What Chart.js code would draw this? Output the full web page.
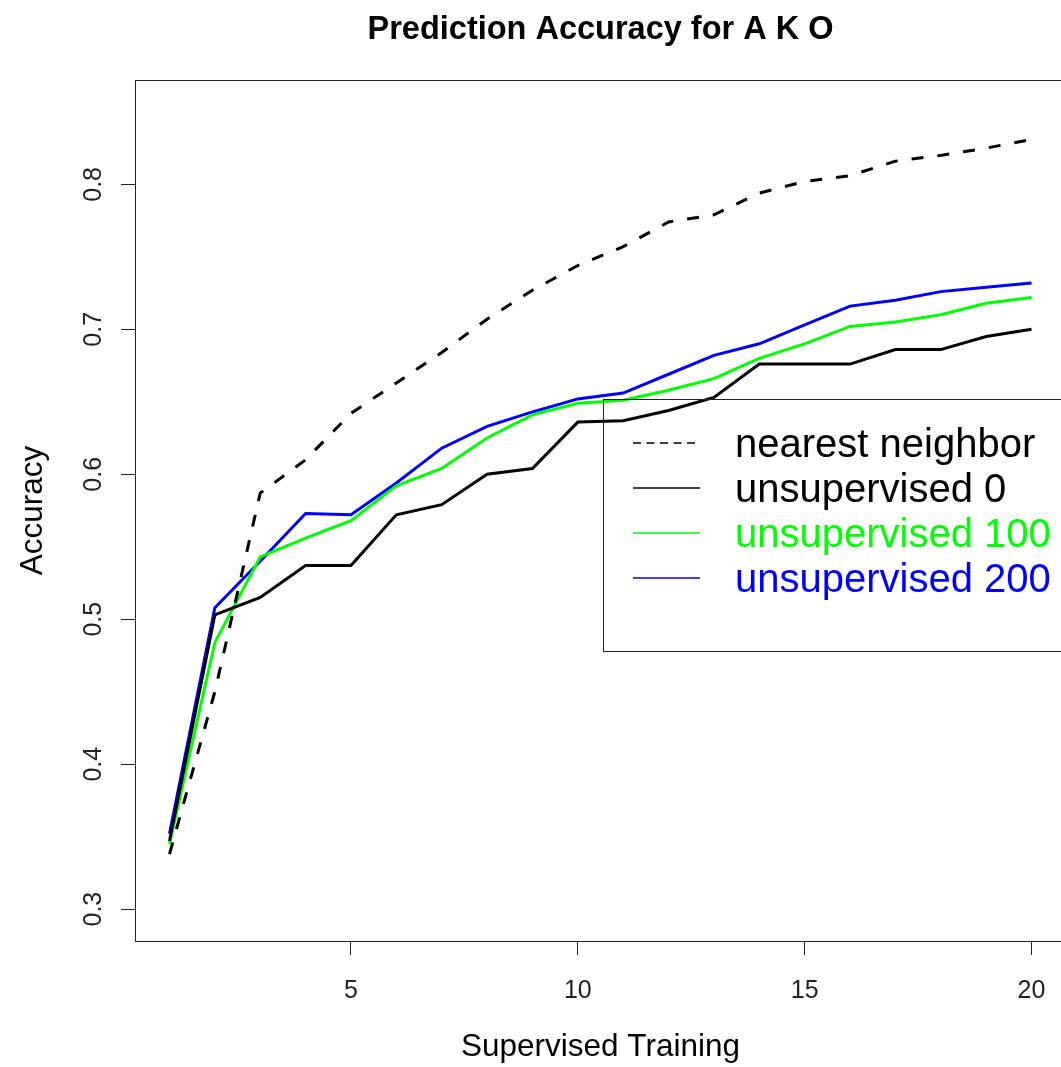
<!DOCTYPE html>
<html>
<head>
<meta charset="utf-8">
<script src="https://cdn.jsdelivr.net/npm/chart.js@4.4.1/dist/chart.umd.min.js"></script>
<style>
  html, body { margin: 0; padding: 0; background: #fff; overflow: hidden; }
  #wrap { width: 1061px; height: 1067px; overflow: hidden; position: relative; }
  #accChart { position: absolute; left: 0; top: 0; }
</style>
</head>
<body>
<div id="wrap"><canvas id="accChart" width="1100" height="1067"></canvas></div>
<script>
// Supervised training steps (x)
const trainSteps = [1, 2, 3, 4, 5, 6, 7, 8, 9, 10, 11, 12, 13, 14, 15, 16, 17, 18, 19, 20];

// Accuracy per method
const nearestNeighbor = [0.338, 0.450, 0.587, 0.610, 0.642, 0.663, 0.684, 0.707, 0.727, 0.744,
                         0.757, 0.774, 0.779, 0.794, 0.802, 0.806, 0.816, 0.820, 0.825, 0.831];
const unsup0   = [0.347, 0.503, 0.515, 0.537, 0.537, 0.572, 0.579, 0.600, 0.604, 0.636,
                  0.637, 0.644, 0.653, 0.676, 0.676, 0.676, 0.686, 0.686, 0.695, 0.700];
const unsup100 = [0.345, 0.484, 0.543, 0.556, 0.568, 0.592, 0.604, 0.625, 0.641, 0.649,
                  0.651, 0.658, 0.666, 0.680, 0.690, 0.702, 0.705, 0.710, 0.718, 0.722];
const unsup200 = [0.352, 0.508, 0.540, 0.573, 0.572, 0.594, 0.618, 0.633, 0.643, 0.652,
                  0.656, 0.669, 0.682, 0.690, 0.703, 0.716, 0.720, 0.726, 0.729, 0.732];

// Axis ticks
const xTicks = [5, 10, 15, 20];
const yTicks = [0.3, 0.4, 0.5, 0.6, 0.7, 0.8];

const seriesLabels = ['nearest neighbor', 'unsupervised 0', 'unsupervised 100', 'unsupervised 200'];
const seriesColors = ['#000000', '#000000', '#00ff00', '#0000ff'];
const seriesData = [nearestNeighbor, unsup0, unsup100, unsup200];

const FONT = '"Liberation Sans", Arial, sans-serif';

function toPoints(values) {
    return values.map((v, i) => ({ x: trainSteps[i], y: v }));
}

// box around the plot, title, rotated y labels and the legend (R style)
const decorPlugin = {
    id: 'decor',
    afterDraw(chart) {
        const ctx = chart.ctx;
        const area = chart.chartArea;
        const yScale = chart.scales.y;

        ctx.save();
        ctx.strokeStyle = '#222';
        ctx.lineWidth = 1;
        ctx.strokeRect(area.left + 0.5, area.top + 0.5, area.right - area.left, area.bottom - area.top);

        // title
        ctx.fillStyle = '#000';
        ctx.font = 'bold 32.5px ' + FONT;
        ctx.textAlign = 'center';
        ctx.textBaseline = 'middle';
        ctx.fillText('Prediction Accuracy for A K O', (area.left + area.right) / 2, 30);

        // y tick labels, rotated
        ctx.font = '25px ' + FONT;
        ctx.fillStyle = '#222';
        yScale.ticks.forEach(t => {
            const y = yScale.getPixelForValue(t.value);
            ctx.save();
            ctx.translate(94, y);
            ctx.rotate(-Math.PI / 2);
            ctx.fillText(t.value.toFixed(1), 0, 0);
            ctx.restore();
        });

        // legend (transparent background, like R)
        const lx = 603, ly = 399, lh = 252;
        ctx.strokeStyle = '#222';
        ctx.lineWidth = 1;
        ctx.strokeRect(lx + 0.5, ly + 0.5, 1100 - lx, lh);
        ctx.font = '40px ' + FONT;
        ctx.textAlign = 'left';
        const rowY = [443, 488, 533, 578];
        seriesLabels.forEach((label, i) => {
            ctx.beginPath();
            ctx.setLineDash(i === 0 ? [8, 5.5] : []);
            ctx.strokeStyle = seriesColors[i];
            ctx.lineWidth = 1.5;
            ctx.moveTo(633, rowY[i]);
            ctx.lineTo(700, rowY[i]);
            ctx.stroke();
            ctx.setLineDash([]);
            ctx.fillStyle = seriesColors[i];
            ctx.fillText(label, 735, rowY[i] + 3);
        });
        ctx.restore();
    }
};

const datasets = seriesData.map((vals, i) => ({
    label: seriesLabels[i],
    data: toPoints(vals),
    borderColor: seriesColors[i],
    borderWidth: 3,
    borderDash: i === 0 ? [12, 14] : [],
    pointRadius: 0,
    tension: 0,
    fill: false
}));

new Chart(document.getElementById('accChart').getContext('2d'), {
    type: 'line',
    data: { datasets: datasets },
    options: {
        responsive: false,
        animation: false,
        layout: { padding: { left: 0, right: 34, top: 80, bottom: 0 } },
        plugins: {
            legend: { display: false },
            tooltip: { enabled: false },
            title: { display: false }
        },
        scales: {
            x: {
                type: 'linear',
                min: 0.24,
                max: 20.76,
                afterBuildTicks: scale => { scale.ticks = xTicks.map(v => ({ value: v })); },
                afterFit: scale => { scale.height = 126; },
                border: { display: false },
                grid: { drawOnChartArea: false, drawTicks: true, tickLength: 14, color: '#222' },
                ticks: {
                    color: '#222',
                    padding: 21,
                    maxRotation: 0,
                    font: { family: FONT, size: 25 }
                },
                title: {
                    display: true,
                    text: 'Supervised Training',
                    color: '#000',
                    font: { family: FONT, size: 31.5 },
                    padding: { top: 0, bottom: 1 }
                }
            },
            y: {
                type: 'linear',
                min: 0.278,
                max: 0.872,
                afterBuildTicks: scale => { scale.ticks = yTicks.map(v => ({ value: v })); },
                afterFit: scale => { scale.width = 135; },
                border: { display: false },
                grid: { drawOnChartArea: false, drawTicks: true, tickLength: 14, color: '#222' },
                ticks: { display: false },
                title: {
                    display: true,
                    text: 'Accuracy',
                    color: '#000',
                    font: { family: FONT, size: 31.5 },
                    padding: { top: 14, bottom: 0 }
                }
            }
        }
    },
    plugins: [decorPlugin]
});
</script>
</body>
</html>
